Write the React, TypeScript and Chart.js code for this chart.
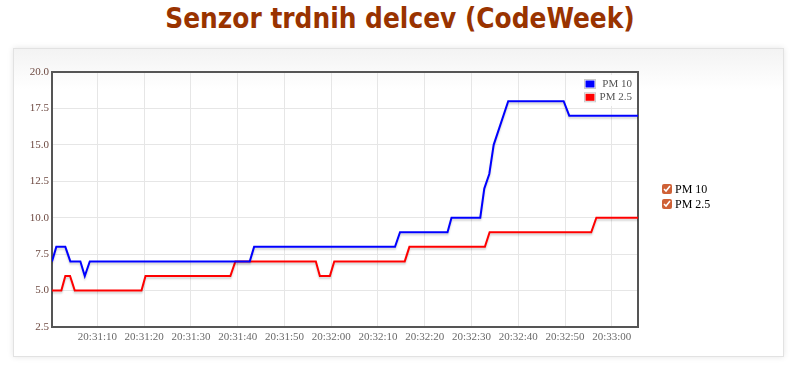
import React, { useEffect, useRef } from "react";
import { Chart, registerables } from "chart.js";

Chart.register(...registerables);

// Data: time offsets (seconds after 20:31:00) and sensor values
const baseTime = "20:31:00";
const pm10Times = [0.29, 1.21, 3.14, 4.21, 6.36, 7.3, 8.37, 42.57, 43.51, 73.64, 74.71, 84.87, 85.72, 91.87, 92.73, 93.8, 94.74, 97.85, 109.7, 110.9, 125.6];
const pm10Values = [7, 8, 8, 7, 7, 6, 7, 7, 8, 8, 9, 9, 10, 10, 12, 13, 15, 18, 18, 17, 17];
const pm25Times = [0.29, 2.29, 3.14, 4.15, 5.16, 19.43, 20.29, 38.43, 39.5, 56.71, 57.57, 59.71, 60.65, 75.72, 76.72, 92.86, 93.87, 115.6, 116.7, 125.6];
const pm25Values = [5, 5, 6, 6, 5, 5, 6, 6, 7, 7, 6, 6, 7, 7, 8, 8, 9, 9, 10, 10];
const xTickLabels = ["20:31:10", "20:31:20", "20:31:30", "20:31:40", "20:31:50", "20:32:00", "20:32:10", "20:32:20", "20:32:30", "20:32:40", "20:32:50", "20:33:00"];
const seriesLabels = ["PM 10", "PM 2.5"];
const seriesColors = ["#0000ff", "#ff0000"];
const yMin = 2.5;
const yMax = 20;
const yStep = 2.5;

const toSec = (s: string) => {
  const [h, m, sec] = s.split(":").map(Number);
  return h * 3600 + m * 60 + sec;
};
const baseSec = toSec(baseTime);
const fmt = (v: number) => {
  const t = Math.round(baseSec + v);
  const h = Math.floor(t / 3600);
  const m = Math.floor((t % 3600) / 60);
  const s = t % 60;
  const p = (n: number) => String(n).padStart(2, "0");
  return `${p(h)}:${p(m)}:${p(s)}`;
};
const xTickValues = xTickLabels.map((l) => toSec(l) - baseSec);

const SERIF = '"Liberation Serif", "Times New Roman", serif';

const borderPlugin = {
  id: "plotBorder",
  beforeDatasetsDraw(chart: any) {
    const { ctx, chartArea: a } = chart;
    ctx.save();
    ctx.strokeStyle = "#555555";
    ctx.lineWidth = 2;
    ctx.strokeRect(a.left, a.top, a.right - a.left, a.bottom - a.top);
    ctx.restore();
  },
};

const shadowPlugin = {
  id: "lineShadow",
  beforeDatasetDraw(chart: any) {
    const ctx = chart.ctx;
    ctx.save();
    ctx.shadowColor = "rgba(0,0,0,0.18)";
    ctx.shadowBlur = 2;
    ctx.shadowOffsetY = 2;
  },
  afterDatasetDraw(chart: any) {
    chart.ctx.restore();
  },
};

const innerLegendPlugin = {
  id: "innerLegend",
  afterDatasetsDraw(chart: any) {
    const { ctx, chartArea: a } = chart;
    ctx.save();
    ctx.fillStyle = "rgba(255,255,255,0.85)";
    ctx.fillRect(a.right - 58, a.top + 3, 55, 31);
    ctx.font = `11px ${SERIF}`;
    ctx.textAlign = "right";
    ctx.textBaseline = "middle";
    chart.data.datasets.forEach((ds: any, i: number) => {
      const cy = a.top + 12 + i * 13.3;
      const bx = a.right - 54;
      ctx.strokeStyle = "#cccccc";
      ctx.lineWidth = 1;
      ctx.strokeRect(bx + 0.5, cy - 4.5, 11, 9);
      ctx.fillStyle = ds.borderColor;
      ctx.fillRect(bx + 1.5, cy - 3.5, 9, 7);
      ctx.fillStyle = "#545454";
      ctx.fillText(ds.label, a.right - 6, cy);
    });
    ctx.restore();
  },
};

export default function App() {
  const ref = useRef<HTMLCanvasElement>(null);
  useEffect(() => {
    if (!ref.current) return;
    const chart = new Chart(ref.current, {
      type: "line",
      data: {
        datasets: [
          {
            label: seriesLabels[0],
            data: pm10Times.map((t, i) => ({ x: t, y: pm10Values[i] })),
            borderColor: seriesColors[0],
            backgroundColor: seriesColors[0],
            borderWidth: 2,
            pointRadius: 0,
            tension: 0,
            fill: false,
          },
          {
            label: seriesLabels[1],
            data: pm25Times.map((t, i) => ({ x: t, y: pm25Values[i] })),
            borderColor: seriesColors[1],
            backgroundColor: seriesColors[1],
            borderWidth: 2,
            pointRadius: 0,
            tension: 0,
            fill: false,
          },
        ],
      },
      options: {
        responsive: false,
        animation: false,
        layout: { padding: { top: 72, right: 162, bottom: 28, left: 0 } },
        plugins: {
          legend: { display: false },
          title: { display: false },
          tooltip: { enabled: false },
        },
        scales: {
          x: {
            type: "linear",
            min: pm10Times[0],
            max: pm10Times[pm10Times.length - 1],
            afterBuildTicks: (scale: any) => {
              scale.ticks = xTickValues.map((v) => ({ value: v }));
            },
            afterFit: (scale: any) => {
              scale.height = 20;
            },
            ticks: {
              autoSkip: false,
              maxRotation: 0,
              padding: 4,
              color: "#6a6a6a",
              font: { family: SERIF, size: 11 },
              callback: (v: any) => fmt(Number(v)),
            },
            grid: { color: "#e6e6e6", drawTicks: false, lineWidth: 1 },
            border: { display: false },
          },
          y: {
            type: "linear",
            min: yMin,
            max: yMax,
            afterFit: (scale: any) => {
              scale.width = 52;
            },
            ticks: {
              stepSize: yStep,
              padding: 3,
              color: "#6e4a42",
              font: { family: SERIF, size: 11 },
              callback: (v: any) => Number(v).toFixed(1),
            },
            grid: { color: "#e6e6e6", drawTicks: false, lineWidth: 1 },
            border: { display: false },
          },
        },
      },
      plugins: [borderPlugin, shadowPlugin, innerLegendPlugin],
    } as any);
    return () => chart.destroy();
  }, []);

  return (
    <div style={{ position: "fixed", left: 0, top: 0, width: 800, height: 375, background: "#fff", overflow: "hidden" }}>
      <div
        style={{
          position: "absolute",
          left: 0,
          top: 2,
          width: 800,
          textAlign: "center",
          fontFamily: '"DejaVu Sans Condensed", "DejaVu Sans", sans-serif',
          fontStretch: "condensed",
          fontWeight: "bold",
          fontSize: 27.7,
          color: "#993300",
          lineHeight: "34px",
        }}
      >
        Senzor trdnih delcev (CodeWeek)
      </div>
      <div
        style={{
          position: "absolute",
          left: 13,
          top: 48,
          width: 769,
          height: 307,
          border: "1px solid #e2e2e2",
          boxShadow: "0 0 6px rgba(0,0,0,0.10)",
          background: "linear-gradient(to bottom, #f3f3f3 0px, #ffffff 40px)",
        }}
      />
      <canvas ref={ref} width={800} height={375} style={{ position: "absolute", left: 0, top: 0, width: 800, height: 375 }} />
      <div
        style={{
          position: "absolute",
          left: 662,
          top: 182,
          fontFamily: SERIF,
          fontSize: 12,
          color: "#000",
          lineHeight: "14.5px",
        }}
      >
        {seriesLabels.map((l) => (
          <div key={l} style={{ display: "flex", alignItems: "center", height: 14.5 }}>
            <input
              type="checkbox"
              defaultChecked
              style={{ width: 10, height: 10, margin: "0 3px 0 0", accentColor: "#cf6136" }}
            />
            <span>{l}</span>
          </div>
        ))}
      </div>
    </div>
  );
}
